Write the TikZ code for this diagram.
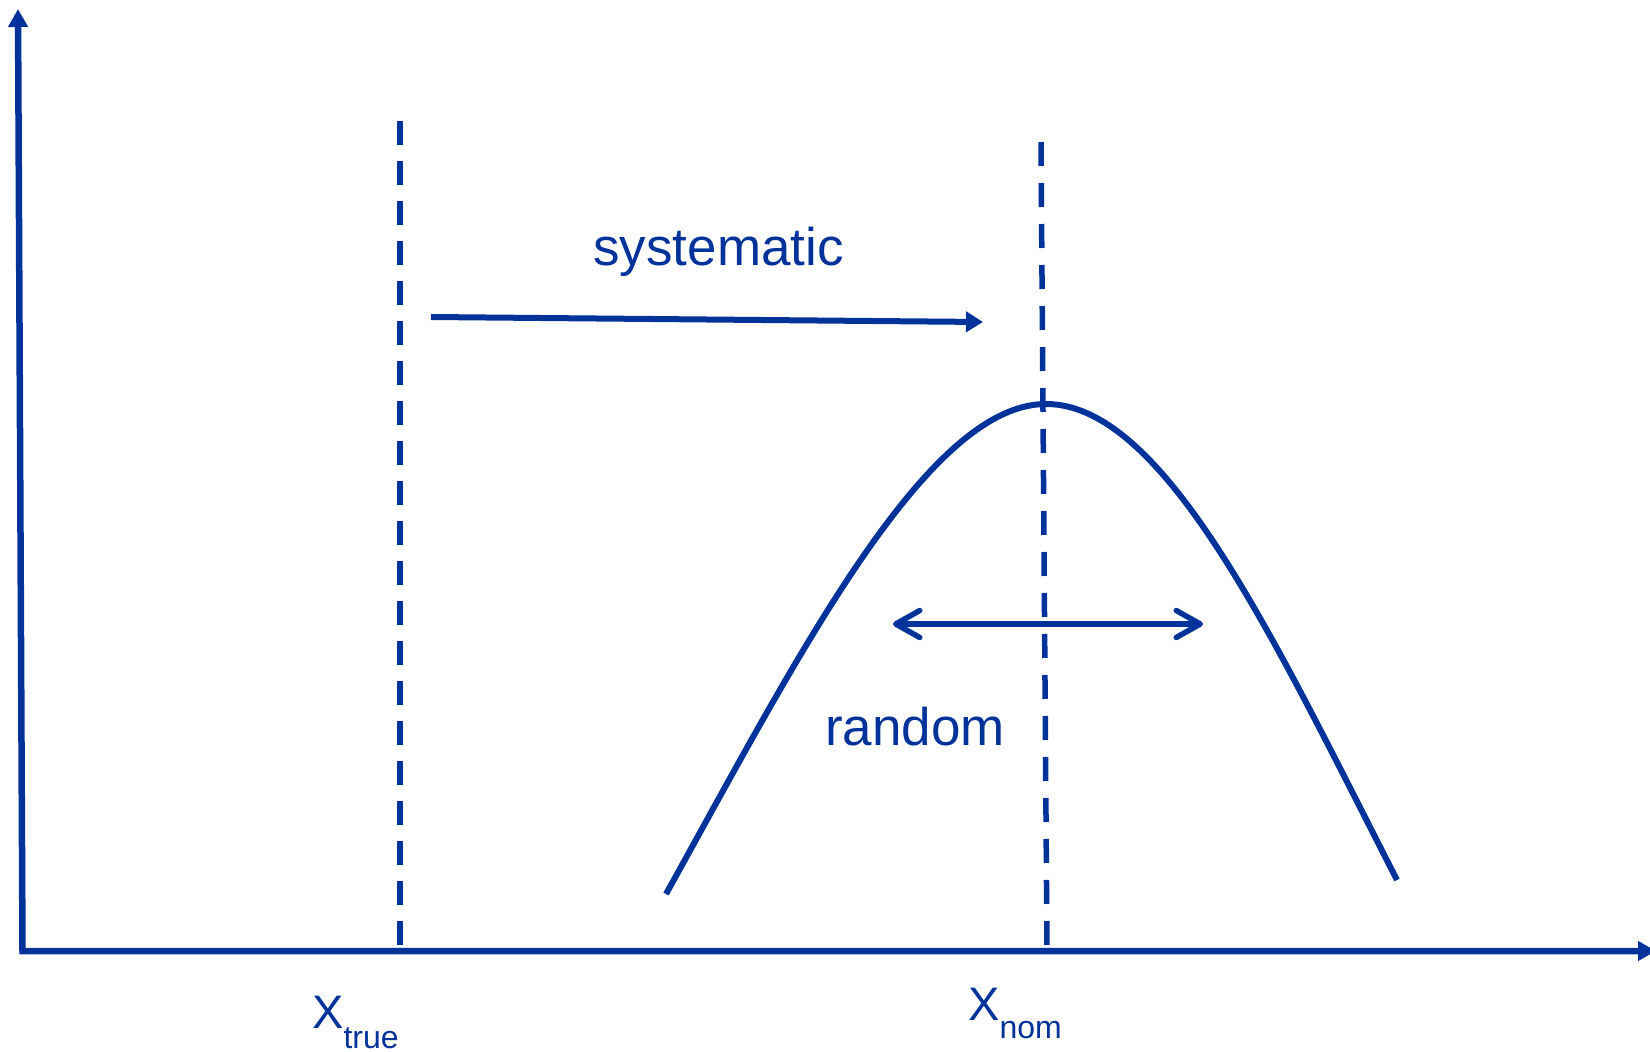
\documentclass[tikz,border=0pt]{standalone}
\usepackage{fontspec}
\setmainfont{Liberation Sans}
\usetikzlibrary{arrows.meta}
\definecolor{dblue}{RGB}{0,51,153}
\begin{document}
\begin{tikzpicture}[x=1pt,y=-1pt,
  axisline/.style={draw=dblue, line width=6.5pt, line join=miter,
    {Triangle[length=18pt,width=19pt]}-{Triangle[length=18pt,width=19pt]}},
  dashline/.style={draw=dblue, line width=5.5pt, dash pattern=on 24pt off 17pt},
  curveline/.style={draw=dblue, line width=6pt},
  sysarrow/.style={draw=dblue, line width=6pt, -{Triangle[length=17pt,width=20pt]}},
  randarrow/.style={draw=dblue, line width=5.5pt,
    {Straight Barb[length=24pt,width=27pt,round]}-{Straight Barb[length=24pt,width=27pt,round]}},
  lbl/.style={text=dblue, inner sep=0pt, font=\fontsize{53}{60}\selectfont}
]
\useasboundingbox (0,0) rectangle (1650,1052);
\clip (0,0) rectangle (1650,1052);
% axes
\coordinate (ytop) at (18,9);
\coordinate (origin) at (22.5,951);
\coordinate (xend) at (1656,951);
\draw[axisline] (ytop) -- (origin) -- (xend);
% dashed lines
\coordinate (d1top) at (400,121);
\coordinate (d1bot) at (400,945);
\coordinate (d2top) at (1041,142);
\coordinate (d2bot) at (1047,951);
\draw[dashline, dash pattern=on 24pt off 16pt] (d1top) -- (d1bot);
\draw[dashline] (d2top) -- (d2bot);
% distribution curve
\coordinate (cl) at (666,894);
\coordinate (cp) at (1046,404);
\coordinate (cr) at (1397,880);
\draw[curveline] (cl) .. controls (796,660) and (926,404) .. (cp)
                      .. controls (1166,404) and (1277,646) .. (cr);
% systematic arrow
\coordinate (s1) at (431,317);
\coordinate (s2) at (983,322);
\draw[sysarrow] (s1) -- (s2);
% random arrow
\coordinate (r1) at (893,624);
\coordinate (r2) at (1203,624);
\draw[randarrow] (r1) -- (r2);
% labels
\node[lbl, anchor=base] (sys) at (718.5,265) {systematic};
\node[lbl, anchor=base] (rand) at (915,745) {random};
\node[text=dblue, inner sep=0pt, anchor=base west] (xtrue) at (312,1028)
  {\fontsize{47}{50}\selectfont X\fontsize{32}{36}\selectfont\raisebox{-20pt}{true}};
\node[text=dblue, inner sep=0pt, anchor=base west] (xnom) at (968,1020)
  {\fontsize{47}{50}\selectfont X\fontsize{32}{36}\selectfont\raisebox{-18pt}{nom}};
\end{tikzpicture}
\end{document}
